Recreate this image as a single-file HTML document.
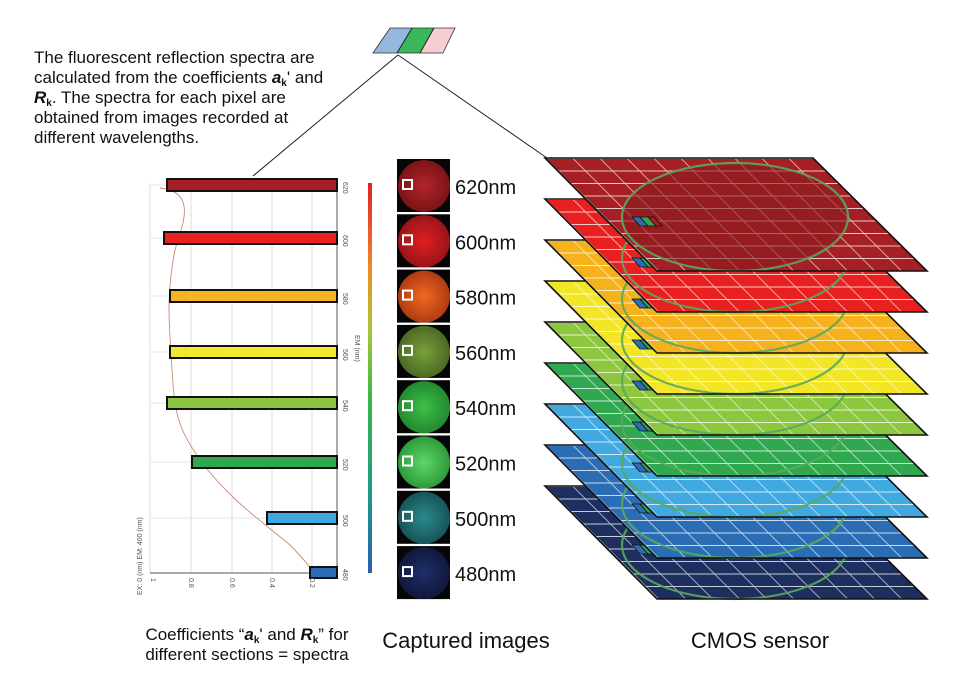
<!DOCTYPE html>
<html><head><meta charset="utf-8"><style>
html,body{margin:0;padding:0;background:#fff;}
svg{display:block;font-family:"Liberation Sans",Arial,sans-serif;}
</style></head><body>
<svg id="s" width="972" height="686" viewBox="0 0 972 686" xmlns="http://www.w3.org/2000/svg">
<defs>
<pattern id="grid" width="27" height="12.5" patternUnits="userSpaceOnUse" patternTransform="translate(545,158) skewX(45)">
<path d="M0 0.5H27M0.6 0V12.5" stroke="#fff" stroke-opacity="0.75" stroke-width="1.1" fill="none"/>
</pattern>
<linearGradient id="cb" x1="0" y1="1" x2="0" y2="0">
<stop offset="0" stop-color="#2a5db0"/><stop offset="0.2" stop-color="#1d9a8a"/><stop offset="0.45" stop-color="#3db54a"/><stop offset="0.62" stop-color="#a8c83a"/><stop offset="0.78" stop-color="#f08a24"/><stop offset="1" stop-color="#e0202a"/>
</linearGradient>
<radialGradient id="g0"><stop offset="0" stop-color="#b3242a"/><stop offset="1" stop-color="#7a1418"/></radialGradient>
<radialGradient id="g1"><stop offset="0" stop-color="#e01e22"/><stop offset="1" stop-color="#9a1418"/></radialGradient>
<radialGradient id="g2"><stop offset="0" stop-color="#f06a20"/><stop offset="1" stop-color="#b03a14"/></radialGradient>
<radialGradient id="g3"><stop offset="0" stop-color="#7aa03a"/><stop offset="1" stop-color="#4a6a24"/></radialGradient>
<radialGradient id="g4"><stop offset="0" stop-color="#3cbf48"/><stop offset="1" stop-color="#228a2e"/></radialGradient>
<radialGradient id="g5"><stop offset="0" stop-color="#5ed86a"/><stop offset="1" stop-color="#2e9a3a"/></radialGradient>
<radialGradient id="g6"><stop offset="0" stop-color="#2a8a8c"/><stop offset="1" stop-color="#165458"/></radialGradient>
<radialGradient id="g7"><stop offset="0" stop-color="#1e2e6a"/><stop offset="1" stop-color="#10183c"/></radialGradient>
</defs>

<!-- top text -->
<g font-size="17" fill="#111">
<text x="34" y="63">The fluorescent reflection spectra are</text>
<text x="34" y="83">calculated from the coefficients <tspan font-weight="bold" font-style="italic">a</tspan><tspan font-size="10" dy="3" font-weight="bold">k</tspan><tspan dy="-3">' and</tspan></text>
<text x="34" y="103"><tspan font-weight="bold" font-style="italic">R</tspan><tspan font-size="10" dy="3" font-weight="bold">k</tspan><tspan dy="-3">. The spectra for each pixel are</tspan></text>
<text x="34" y="123">obtained from images recorded at</text>
<text x="34" y="143">different wavelengths.</text>
</g>

<!-- top parallelogram -->
<polygon points="390,28 412,28 397,53 373,53" fill="#94b8dc"/>
<polygon points="412,28 434,28 420,53 397,53" fill="#3cb65a"/>
<polygon points="434,28 455,28 443,53 420,53" fill="#f6cdd2"/>
<polygon points="390,28 455,28 443,53 373,53" fill="none" stroke="#333" stroke-width="0.8"/>
<path d="M412 28L397 53M434 28L420 53" stroke="#222" stroke-width="1"/>
<path d="M398 55L253 176M398 55L547 158" stroke="#222" stroke-width="1" fill="none"/>

<!-- chart -->
<g id="chart">
<path d="M150 183V573M191 183V573M232 183V573M272 183V573M312 183V573" stroke="#ddd" stroke-width="1"/>
<path d="M150 185H337M150 238H337M150 296H337M150 352H337M150 403H337M150 462H337M150 518H337" stroke="#e4e4e4"/>
<path d="M150 573H337V183" stroke="#555" stroke-width="1" fill="none"/>
<path d="M160 188 C200 192 180 230 175 250 C165 300 170 330 172 370 C175 420 180 430 200 460 C230 500 260 520 290 545 C305 560 310 568 315 573" stroke="#c88a7a" stroke-width="0.9" fill="none"/>
<g stroke="#111" stroke-width="2">
<rect x="167" y="179" width="170" height="12" fill="#a61f25"/>
<rect x="164" y="232" width="173" height="12" fill="#e8201f"/>
<rect x="170" y="290" width="167" height="12" fill="#f4b324"/>
<rect x="170" y="346" width="167" height="12" fill="#f2e832"/>
<rect x="167" y="397" width="170" height="12" fill="#8cc640"/>
<rect x="192" y="456" width="145" height="12" fill="#2fa84f"/>
<rect x="267" y="512" width="70" height="12" fill="#3ea8df"/>
<rect x="310" y="567" width="27" height="11" fill="#2b6ab4"/>
</g>
<g font-size="7" fill="#555">
<text transform="translate(343,182) rotate(90)">620</text>
<text transform="translate(343,235) rotate(90)">600</text>
<text transform="translate(343,293) rotate(90)">580</text>
<text transform="translate(343,349) rotate(90)">560</text>
<text transform="translate(343,400) rotate(90)">540</text>
<text transform="translate(343,459) rotate(90)">520</text>
<text transform="translate(343,515) rotate(90)">500</text>
<text transform="translate(343,569) rotate(90)">480</text>
<text transform="translate(355,335) rotate(90)">EM (nm)</text>
<text transform="translate(151,578) rotate(90)">1</text>
<text transform="translate(189,578) rotate(90)">0.8</text>
<text transform="translate(230,578) rotate(90)">0.6</text>
<text transform="translate(270,578) rotate(90)">0.4</text>
<text transform="translate(310,578) rotate(90)">0.2</text>
<text transform="translate(142,595) rotate(-90)">EX: 0 (nm) EM: 400 (nm)</text>
</g>
<rect x="368" y="183" width="4" height="390" fill="url(#cb)"/>
</g>

<!-- captured images -->
<g id="imgs"></g>
<g font-size="20" fill="#111" id="lbls"></g>

<!-- layers -->
<g id="layers"></g>

<!-- bottom labels -->
<g font-size="17" fill="#111" text-anchor="middle">
<text x="247" y="640">Coefficients “<tspan font-weight="bold" font-style="italic">a</tspan><tspan font-size="10" dy="3" font-weight="bold">k</tspan><tspan dy="-3">' and </tspan><tspan font-weight="bold" font-style="italic">R</tspan><tspan font-size="10" dy="3" font-weight="bold">k</tspan><tspan dy="-3">” for</tspan></text>
<text x="247" y="660">different sections = spectra</text>
</g>
<text x="466" y="648" font-size="22" fill="#111" text-anchor="middle">Captured images</text>
<text x="760" y="648" font-size="22" fill="#111" text-anchor="middle">CMOS sensor</text>
</svg>
<script>
var NS="http://www.w3.org/2000/svg";
function el(t,a,p){var e=document.createElementNS(NS,t);for(var k in a)e.setAttribute(k,a[k]);p.appendChild(e);return e;}
var imgs=document.getElementById('imgs'),lbls=document.getElementById('lbls');
var nm=[620,600,580,560,540,520,500,480];
for(var i=0;i<8;i++){var y=159+i*55.3;
el('rect',{x:397,y:y,width:53,height:53,fill:'#060606'},imgs);
el('circle',{cx:424,cy:y+27,r:26,fill:'url(#g'+i+')'},imgs);
el('rect',{x:403,y:y+21,width:9,height:9,fill:'none',stroke:'#fff','stroke-width':2},imgs);
var t=el('text',{x:455,y:y+35},lbls);t.textContent=nm[i]+'nm';}
var cols=['#a51f24','#e8201f','#f5b21c','#f3e627','#8dc63f','#2fa84f','#3fa9e0','#2a6db5','#1c2f5e'];
var L=document.getElementById('layers');
for(var i=8;i>=0;i--){var d=i*41;
var g=el('g',{transform:'translate(0,'+d+')'},L);
var pts='545,158 813,158 927,271 657,271';
el('polygon',{points:pts,fill:cols[i]},g);
el('polygon',{points:pts,fill:'url(#grid)'},g);
el('ellipse',{cx:735,cy:217,rx:113,ry:54,fill:i==0?'#8a1d20':'none','fill-opacity':0.6,stroke:'#5aa85a','stroke-width':2.2,'stroke-opacity':0.9},g);
el('polygon',{points:'632,217 640,217 648,226 640,226',fill:'#2a6db5',stroke:'#111','stroke-width':0.8},g);
el('polygon',{points:'640,217 648,217 656,226 648,226',fill:'#2fa84f',stroke:'#111','stroke-width':0.8},g);
el('polygon',{points:'648,217 654,217 662,226 656,226',fill:cols[i],stroke:'#111','stroke-width':0.8},g);
el('polygon',{points:pts,fill:'none',stroke:'#111','stroke-width':1.6},g);}
</script>
</body></html>
